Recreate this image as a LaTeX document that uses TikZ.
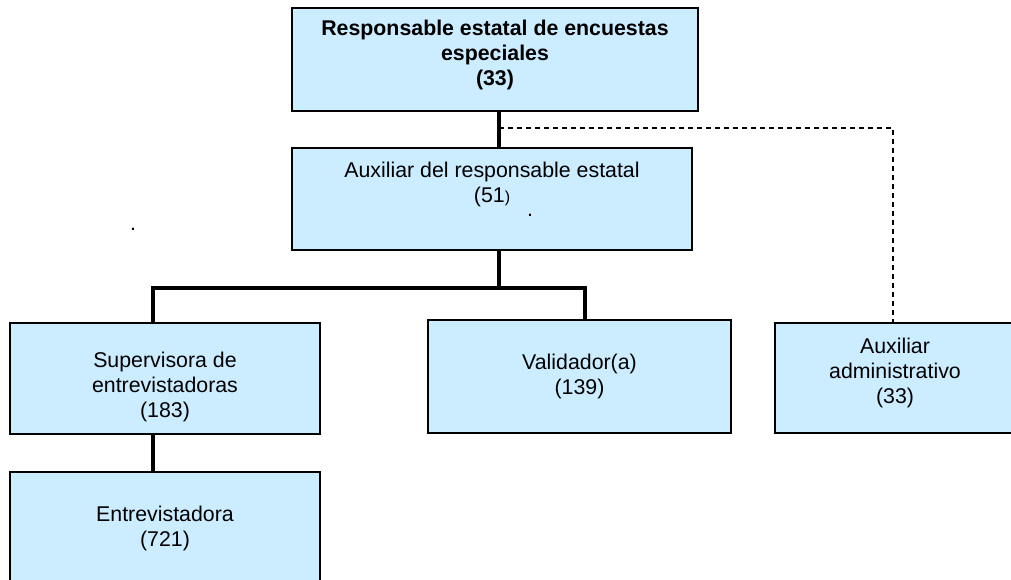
\documentclass[tikz,border=0pt]{standalone}
\usepackage{fontspec}
\setmainfont{Liberation Sans}
\usetikzlibrary{calc}
\definecolor{boxblue}{RGB}{204,236,255}

\begin{document}
\begin{tikzpicture}[x=0.75pt,y=0.75pt,yscale=-1,xscale=1,
  font=\fontsize{16}{18.75}\selectfont,
  puesto/.style={draw=black, line width=1.3pt, fill=boxblue, align=center, inner sep=0pt},
  mando/.style={line width=3pt},
  apoyo/.style={line width=1pt, dash pattern=on 3.75pt off 3pt}]
\useasboundingbox (0,0) rectangle (1011,579);
\clip (0,0) rectangle (1011,579);

%Boxes
\node [puesto, minimum width=304.5pt, minimum height=77.25pt] (resp) at (495,59.5) {\textbf{Responsable estatal de encuestas}\\ \textbf{especiales}\\ \textbf{(33)}\rule[-9.5pt]{0pt}{0pt}};
\node [puesto, minimum width=300pt, minimum height=76.5pt] (aux) at (492,199) {Auxiliar del responsable estatal\\ (51{\fontsize{12}{12}\selectfont )}\\ \strut};
\node [puesto, minimum width=232.5pt, minimum height=83.25pt] (sup) at (165,378.5) {\rule{0pt}{24pt}Supervisora de\\ entrevistadoras\\ (183)};
\node [puesto, minimum width=227.25pt, minimum height=84.75pt] (val) at (579.5,376.5) {Validador(a)\\ (139)};
\node [puesto, minimum width=180pt, minimum height=82.5pt] (adm) at (895,378) {Auxiliar\\ administrativo\\ (33)\rule[-11pt]{0pt}{0pt}};
\node [puesto, minimum width=232.5pt, minimum height=84pt] (ent) at (165,528) {Entrevistadora\\ (721)};

%stray dots
\node [inner sep=0pt] (puntoa) at (530,215) {.};
\node [inner sep=0pt] (puntob) at (133,229) {.};

%Connectors
\coordinate (bus) at (499,288);
\coordinate (ramal) at (499,128);
\draw [mando] (resp.south -| bus) -- (aux.north -| bus) ;
\draw [mando] (aux.south -| bus) -- (bus) ;
\draw [mando] (bus) -- (585,288) coordinate (busder) -- (val.north -| busder) ;
\draw [mando] (bus) -- (153,288) coordinate (busizq) -- (sup.north -| busizq) ;
\draw [mando] (sup.south -| busizq) -- (ent.north -| busizq) ;
\draw [apoyo] (ramal) -- (893,128) coordinate (codo) -- (adm.north -| codo) ;

\end{tikzpicture}
\end{document}
